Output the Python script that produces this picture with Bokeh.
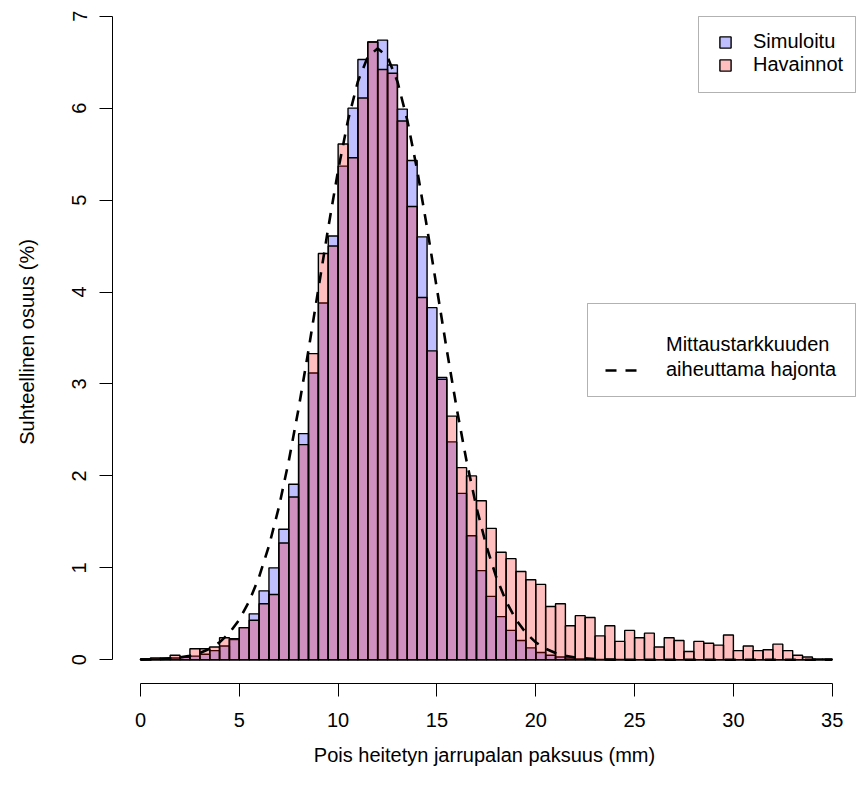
from bokeh.plotting import figure
from bokeh.models import (Range1d, Legend, LegendItem, BoxAnnotation,
                          FixedTicker, ColumnDataSource)
from bokeh.embed import file_html
from bokeh.resources import INLINE

# ---------------- data ----------------
bin_width = 0.5
bin_left = [i * bin_width for i in range(70)]

simuloitu = [0.01, 0.01, 0.01, 0.02, 0.03, 0.04, 0.06, 0.10, 0.15, 0.22,
             0.35, 0.50, 0.75, 1.00, 1.42, 1.91, 2.46, 3.12, 3.88, 4.61,
             5.37, 6.00, 6.53, 6.72, 6.74, 6.47, 5.99, 5.43, 4.60, 3.83,
             3.07, 2.37, 1.81, 1.35, 0.97, 0.69, 0.47, 0.32, 0.21, 0.13,
             0.08, 0.05, 0.03, 0.02, 0.01, 0.01, 0.005, 0.004, 0.003, 0.002,
             0, 0, 0, 0, 0, 0, 0, 0, 0, 0,
             0, 0, 0, 0, 0, 0, 0, 0, 0, 0]

havainnot = [0.01, 0.02, 0.02, 0.05, 0.03, 0.12, 0.12, 0.14, 0.24, 0.23,
             0.35, 0.43, 0.61, 0.71, 1.27, 1.77, 2.34, 3.33, 4.42, 4.50,
             5.61, 5.46, 6.11, 6.72, 6.42, 6.38, 5.86, 4.93, 3.94, 3.36,
             3.05, 2.65, 2.09, 2.00, 1.73, 1.43, 1.17, 1.10, 0.96, 0.87,
             0.82, 0.58, 0.61, 0.37, 0.48, 0.46, 0.26, 0.37, 0.20, 0.32,
             0.24, 0.29, 0.14, 0.24, 0.21, 0.09, 0.20, 0.18, 0.16, 0.27,
             0.10, 0.15, 0.10, 0.11, 0.17, 0.10, 0.05, 0.03, 0.01, 0.01]

curve_x = [i * 0.5 for i in range(71)]
curve_y = [0.002, 0.004, 0.008, 0.015, 0.026, 0.044, 0.074, 0.120, 0.190, 0.292,
           0.437, 0.636, 0.900, 1.239, 1.658, 2.159, 2.734, 3.367, 4.033, 4.699,
           5.325, 5.869, 6.291, 6.558, 6.650, 6.558, 6.291, 5.869, 5.325, 4.699,
           4.033, 3.367, 2.734, 2.159, 1.658, 1.239, 0.900, 0.636, 0.437, 0.292,
           0.190, 0.120, 0.074, 0.044, 0.026, 0.015, 0.008, 0.004, 0.002, 0.001,
           0, 0, 0, 0, 0, 0, 0, 0, 0, 0,
           0, 0, 0, 0, 0, 0, 0, 0, 0, 0, 0]

x_ticks = [0, 5, 10, 15, 20, 25, 30, 35]
y_ticks = [0, 1, 2, 3, 4, 5, 6, 7]

label_sim = "Simuloitu"
label_hav = "Havainnot"
label_curve_1 = "Mittaustarkkuuden"
label_curve_2 = "aiheuttama hajonta"
x_title = "Pois heitetyn jarrupalan paksuus (mm)"
y_title = "Suhteellinen osuus (%)"

# ---------------- layout ----------------
W, H = 856, 789
FL, FB = 112, 106
frame_h = H - FB
PX0, PXU = 140.0, 19.763   # pixel of x=0, pixels per unit
PY0, PYU = 659.3, 91.94    # pixel of y=0, pixels per unit


def xd(px):
    return (px - PX0) / PXU


def yd(py):
    return (PY0 - py) / PYU


FONT = "Liberation Sans"

p = figure(width=W, height=H, output_backend="svg", toolbar_location=None,
           x_range=Range1d(xd(FL), xd(W)), y_range=Range1d(yd(frame_h), yd(0)),
           min_border_left=FL, min_border_right=0, min_border_top=0,
           min_border_bottom=FB)
p.outline_line_color = None
p.grid.visible = False
p.background_fill_color = "white"
p.border_fill_color = "white"

bin_right = [l + bin_width for l in bin_left]
src_b = ColumnDataSource(dict(left=bin_left, right=bin_right, top=simuloitu))
src_r = ColumnDataSource(dict(left=bin_left, right=bin_right, top=havainnot))

r_blue = p.quad(left="left", right="right", bottom=0, top="top", source=src_b,
                fill_color=(0, 0, 255), fill_alpha=0.25,
                line_color="black", line_width=1.4)
r_red = p.quad(left="left", right="right", bottom=0, top="top", source=src_r,
               fill_color=(255, 0, 0), fill_alpha=0.25,
               line_color="black", line_width=1.4)
r_curve = p.line(curve_x, curve_y, line_color="black", line_width=2.6,
                 line_dash="11 9")
r_blank = p.line(curve_x, curve_y, line_alpha=0)

for ax, ticks, bnd in ((p.xaxis[0], x_ticks, (0, 35)), (p.yaxis[0], y_ticks, (0, 7))):
    ax.ticker = FixedTicker(ticks=ticks)
    ax.bounds = bnd
    ax.axis_line_color = "black"
    ax.axis_line_width = 1
    ax.major_tick_line_color = "black"
    ax.major_tick_out = 13
    ax.major_tick_in = 0
    ax.minor_tick_out = 0
    ax.minor_tick_in = 0
    ax.major_label_text_font = FONT
    ax.major_label_text_font_size = "20px"
    ax.major_label_text_color = "black"
    ax.axis_label_text_font = FONT
    ax.axis_label_text_font_size = "20px"
    ax.axis_label_text_font_style = "normal"
    ax.axis_label_text_color = "black"

p.xaxis.axis_label = x_title
p.yaxis.axis_label = y_title
p.xaxis.major_label_standoff = 16
p.yaxis.major_label_standoff = 13
p.yaxis.major_label_orientation = "vertical"
p.xaxis.axis_label_standoff = 14
p.yaxis.axis_label_standoff = 32

# legend frames
box1 = BoxAnnotation(left=xd(698), right=xd(855), top=yd(16), bottom=yd(92),
                     fill_color="white", fill_alpha=1, line_color="black",
                     line_width=1)
box2 = BoxAnnotation(left=xd(587), right=xd(855), top=yd(303), bottom=yd(396),
                     fill_color="white", fill_alpha=1, line_color="black",
                     line_width=1)
p.add_layout(box1)
p.add_layout(box2)

common = dict(padding=0, margin=0, spacing=0, border_line_color=None,
              background_fill_alpha=0, label_text_font=FONT,
              label_text_font_size="20px", label_text_color="black")

leg1 = Legend(items=[LegendItem(label=label_sim, renderers=[r_blue]),
                     LegendItem(label=label_hav, renderers=[r_red])],
              location=(718 - FL, frame_h - 76), glyph_width=14,
              glyph_height=14, label_standoff=21, label_height=22, **common)
leg2 = Legend(items=[LegendItem(label=label_curve_1, renderers=[r_blank]),
                     LegendItem(label=label_curve_2, renderers=[r_curve])],
              location=(605 - FL, frame_h - 382), glyph_width=33,
              glyph_height=14, label_standoff=28, label_height=25, **common)
p.add_layout(leg1)
p.add_layout(leg2)

open("out.html", "w").write(file_html(p, INLINE))
